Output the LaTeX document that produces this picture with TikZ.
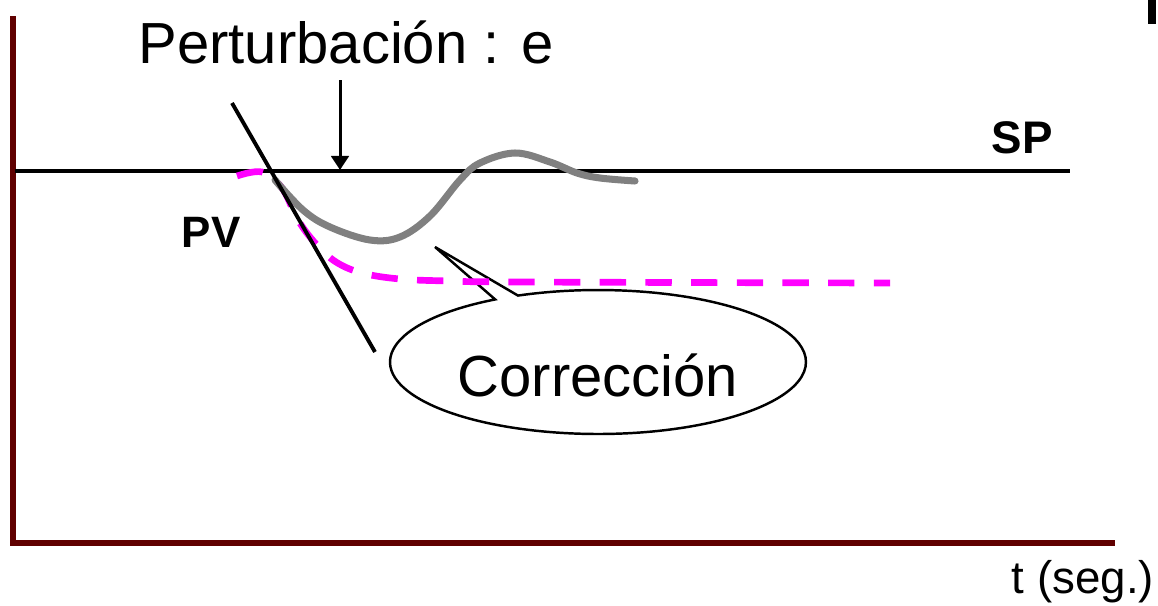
\documentclass[tikz,border=0pt]{standalone}
\usepackage{fontspec}
\setmainfont{Liberation Sans}
\usetikzlibrary{arrows.meta,shapes.callouts}
\definecolor{axisred}{RGB}{96,0,0}
\definecolor{pvmagenta}{RGB}{255,0,255}

\begin{document}
\begin{tikzpicture}[x=0.02cm,y=-0.02cm,big/.style={font=\fontsize{33}{40}\selectfont},tag/.style={font=\fontsize{26}{31}\selectfont\bfseries},axis/.style={axisred,line width=3.8pt},setline/.style={line width=2.2pt},pvline/.style={gray,line width=4pt,line cap=round},target/.style={pvmagenta,line width=3.8pt,dash pattern=on 15pt off 11pt},tangent/.style={line width=2.2pt},disturb/.style={-{Triangle[length=8pt,width=10pt]},line width=1.7pt}]
\useasboundingbox (0,0) rectangle (1158,605);
\fill (1148,0) rectangle (1156,24);
\coordinate (o) at (13,543);
\coordinate (ytop) at (13,16);
\coordinate (xend) at (1115,543);
\draw[axis] (ytop) -- (o) -- (xend);
\coordinate (sp0) at (15,171);
\coordinate (sp1) at (1070,171);
\draw[setline] (sp0) -- (sp1);
\node[tag,anchor=base] (sp) at (1022,153) {SP};
\node[tag,anchor=base,font=\fontsize{25}{30}\selectfont\bfseries] (pv) at (211,247) {PV};
\node[big,anchor=base] (pert) at (346,63) {Perturbación : e};
\coordinate (e0) at (340,80);
\coordinate (e1) at (340,170);
\draw[disturb] (e0) -- (e1);
\node[anchor=base,font=\fontsize{26}{31}\selectfont] (t) at (1083,593) {t (seg.)};
\coordinate (tip) at (435,247);
\node[big,ellipse callout,draw,line width=1.4pt,fill=white,inner sep=0pt,minimum width=8.32cm,minimum height=2.88cm,text height=1.4cm,callout pointer arc=7,callout absolute pointer={(tip)}] (corr) at (598,362) {Corrección};
\draw[target] plot[smooth,tension=0.6] coordinates {(237,176) (262,172) (282,188) (298,220) (316,244) (336,262) (362,273) (400,279) (450,281) (520,282) (890,283)};
\draw[pvline] plot[smooth,tension=0.6] coordinates {(275,180) (303,210) (330,227) (370,240) (400,237) (430,216) (460,180) (480,163) (515,153) (550,162) (577,173) (600,178) (635,181)};
\coordinate (l0) at (232,103);
\coordinate (l1) at (375,352);
\draw[tangent] (l0) -- (l1);
\end{tikzpicture}
\end{document}
